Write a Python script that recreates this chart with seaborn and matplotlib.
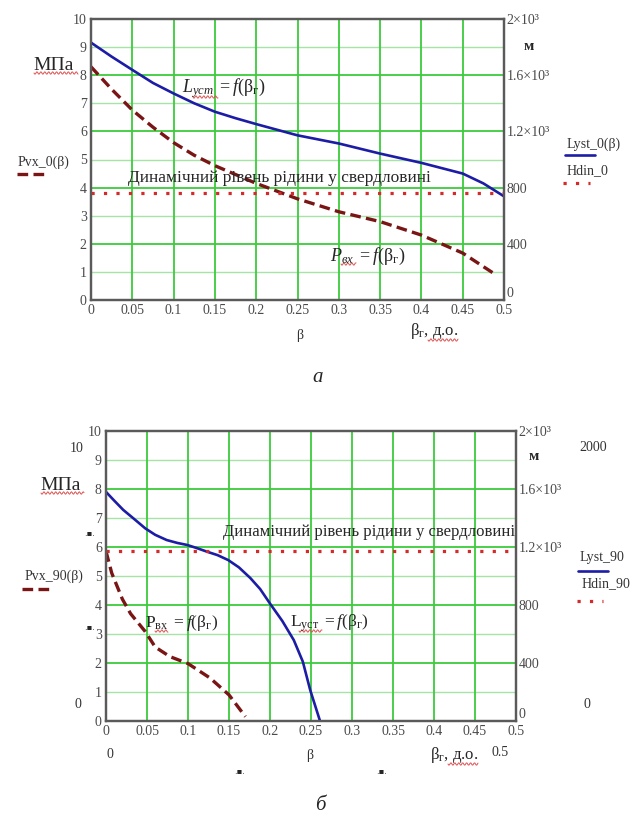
import matplotlib
matplotlib.use("Agg")
import matplotlib.pyplot as plt
import seaborn as sns
import numpy as np
import pandas as pd
from matplotlib.lines import Line2D

# ---------------- data ----------------
# chart a
beta_L0 = [0, 0.025, 0.05, 0.075, 0.1, 0.125, 0.15, 0.175, 0.2, 0.25, 0.3, 0.35, 0.4, 0.45, 0.475, 0.5]
Lyst_0 = [1832, 1732, 1638, 1545, 1470, 1400, 1340, 1294, 1252, 1172, 1114, 1042, 976, 900, 830, 738]   # m
beta_P0 = [0, 0.025, 0.05, 0.075, 0.1, 0.125, 0.15, 0.2, 0.25, 0.3, 0.35, 0.4, 0.45, 0.49]
Pvx_0 = [8.3, 7.5, 6.76, 6.15, 5.6, 5.15, 4.78, 4.15, 3.6, 3.14, 2.79, 2.31, 1.67, 0.9]         # MPa
Hdin_0 = 760                                                                                       # m

# chart b
beta_L90 = [0, 0.01, 0.021, 0.035, 0.048, 0.06, 0.074, 0.087, 0.099, 0.11, 0.123, 0.136, 0.149,
            0.162, 0.176, 0.188, 0.2, 0.215, 0.229, 0.24, 0.249, 0.261]
Lyst_90 = [1580, 1520, 1456, 1390, 1328, 1284, 1248, 1228, 1214, 1194, 1168, 1144, 1110,
           1060, 986, 910, 810, 690, 558, 410, 214, 0]
beta_P90 = [0, 0.007, 0.02, 0.03, 0.048, 0.06, 0.078, 0.1, 0.127, 0.15, 0.17]
Pvx_90 = [5.85, 5.1, 4.2, 3.7, 3.08, 2.55, 2.22, 1.98, 1.48, 0.9, 0.15]
Hdin_90 = 1170

x_ticks = [0, 0.05, 0.1, 0.15, 0.2, 0.25, 0.3, 0.35, 0.4, 0.45, 0.5]
x_labels = ["0", "0.05", "0.1", "0.15", "0.2", "0.25", "0.3", "0.35", "0.4", "0.45", "0.5"]
left_ticks = list(range(0, 11))
right_ticks = [0, 400, 800, 1200, 1600, 2000]
right_labels = ["0", "400", "800", "1.2×10³", "1.6×10³", "2×10³"]
hline_text = "Динамічний рівень рідини у свердловині"

# ---------------- style ----------------
sns.set_style("white")
plt.rcParams["font.family"] = ["Liberation Serif", "DejaVu Serif"]
plt.rcParams["mathtext.fontset"] = "custom"
plt.rcParams["mathtext.rm"] = "Liberation Serif"
plt.rcParams["mathtext.it"] = "Liberation Serif:italic"
plt.rcParams["mathtext.bf"] = "Liberation Serif:bold"

W, H = 637, 816
fig = plt.figure(figsize=(W / 100, H / 100), dpi=100)
fig.patch.set_facecolor("white")

def fx(x):
    return x / W

def fy(y):
    return 1 - y / H

BLUE = "#1c1ca6"
DRED = "#7a1515"
RED = "#d42a2a"
GMAJ = "#3ccc3c"
GMIN = "#a6e3a6"
TICKC = "#4a4a4a"


def squiggle(x0, x1, y):
    xs = np.linspace(x0, x1, int((x1 - x0) * 1.5) + 2)
    ys = y + 1.2 * np.sin((xs - x0) * 1.6)
    fig.add_artist(Line2D([fx(v) for v in xs], [fy(v) for v in ys], color="#e05050", lw=0.7))


def make_panel(rect, bL, L, bP, P, hdin):
    ax = fig.add_axes(rect)
    ax.set_xlim(0, 0.5)
    ax.set_ylim(0, 10)
    for v in left_ticks[1:-1]:
        ax.axhline(v, color=GMAJ if v % 2 == 0 else GMIN, lw=1.3 if v % 2 == 0 else 1.0, zorder=0)
    for v in x_ticks[1:-1]:
        ax.axvline(v, color=GMAJ, lw=1.3, zorder=0)
    ax.set_xticks(x_ticks)
    ax.set_xticklabels(x_labels)
    ax.set_yticks(left_ticks)
    ax.tick_params(length=0, pad=3, labelsize=10, labelcolor=TICKC)
    dfP = pd.DataFrame({"beta": bP, "P": P})
    sns.lineplot(data=dfP, x="beta", y="P", ax=ax, color=DRED, lw=2.4, sort=False)
    ax.lines[-1].set_dashes([3.2, 1.6])
    ax.set_xlabel("")
    ax.set_ylabel("")

    axr = ax.twinx()
    axr.set_ylim(0, 2000)
    axr.set_xlim(0, 0.5)
    dfL = pd.DataFrame({"beta": bL, "L": L})
    sns.lineplot(data=dfL, x="beta", y="L", ax=axr, color=BLUE, lw=1.9, sort=False)
    dfH = pd.DataFrame({"beta": [0, 0.5], "H": [hdin, hdin]})
    sns.lineplot(data=dfH, x="beta", y="H", ax=axr, color=RED, lw=2.3)
    axr.lines[-1].set_dashes([1, 2.9])
    axr.set_yticks(right_ticks)
    axr.set_yticklabels(right_labels)
    axr.tick_params(length=0, pad=2, labelsize=10, labelcolor=TICKC)
    axr.get_yticklabels()[0].set_va("bottom")
    axr.set_xlabel("")
    axr.set_ylabel("")
    for a in (ax, axr):
        for s in a.spines.values():
            s.set_color("#5a5a5a")
            s.set_linewidth(1.6)
    return ax, axr


# ---------- panel a ----------
make_panel([91 / W, 1 - 300 / H, 413 / W, 281 / H], beta_L0, Lyst_0, beta_P0, Pvx_0, Hdin_0)
fig.text(fx(33), fy(65), "МПа", fontsize=14, va="center", ha="left")
squiggle(34, 78, 73)
fig.text(fx(524), fy(47), "м", fontsize=11, fontweight="bold", va="center", ha="left")
fig.text(fx(182), fy(88), r"$L_{уст}\ = f(\mathrm{β}_{\mathrm{г}})$", fontsize=13, va="center", ha="left")
squiggle(193, 218, 97)
fig.text(fx(330), fy(256), r"$P_{вх}\ = f(\mathrm{β}_{\mathrm{г}})$", fontsize=13, va="center", ha="left")
squiggle(341, 356, 264)
fig.text(fx(128), fy(178), hline_text, fontsize=12.5, va="center", ha="left")
fig.text(fx(300), fy(335), "β", fontsize=10, va="center", ha="center", color="#333333")
fig.text(fx(410), fy(331), r"$\mathrm{β}_{\mathrm{г}}$, д.о.", fontsize=12, va="center", ha="left")
squiggle(428, 458, 340)
fig.text(fx(18), fy(162), "Pvx_0(β)", fontsize=10, va="center", ha="left", color="#333333")
fig.text(fx(567), fy(144), "Lyst_0(β)", fontsize=10, va="center", ha="left", color="#333333")
fig.text(fx(567), fy(171), "Hdin_0", fontsize=10, va="center", ha="left", color="#333333")
fig.add_artist(Line2D([fx(17), fx(47)], [fy(174), fy(174)], color=DRED, lw=2.4, dashes=[3.2, 1.6]))
fig.add_artist(Line2D([fx(565), fx(595)], [fy(155), fy(155)], color=BLUE, lw=1.9))
fig.add_artist(Line2D([fx(563), fx(590)], [fy(183), fy(183)], color=RED, lw=2.3, dashes=[1, 2.9]))
fig.text(fx(318), fy(378), "а", fontsize=15, style="italic", va="center", ha="center")

# ---------- panel b ----------
make_panel([106 / W, 1 - 721 / H, 410 / W, 290 / H], beta_L90, Lyst_90, beta_P90, Pvx_90, Hdin_90)
fig.text(fx(40), fy(485), "МПа", fontsize=14, va="center", ha="left")
squiggle(41, 84, 493)
fig.text(fx(529), fy(457), "м", fontsize=11, fontweight="bold", va="center", ha="left")
fig.text(fx(145), fy(623), r"$\mathrm{P}_{\mathrm{вх}}\ = f(\mathrm{β}_{\mathrm{г}})$", fontsize=12.5, va="center", ha="left")
squiggle(155, 168, 631)
fig.text(fx(290), fy(623), r"$\mathrm{L}_{\mathrm{уст}}\ = f(\mathrm{β}_{\mathrm{г}})$", fontsize=12.5, va="center", ha="left")
squiggle(299, 322, 631)
fig.text(fx(223), fy(532), hline_text, fontsize=12, va="center", ha="left")
fig.text(fx(77), fy(448), "10", fontsize=10, va="center", ha="center", color="#333333")
fig.text(fx(78), fy(705), "0", fontsize=10, va="center", ha="center", color="#333333")
fig.text(fx(593), fy(447), "2000", fontsize=10, va="center", ha="center", color="#333333")
fig.text(fx(587), fy(705), "0", fontsize=10, va="center", ha="center", color="#333333")
fig.text(fx(110), fy(755), "0", fontsize=10, va="center", ha="center", color="#333333")
fig.text(fx(310), fy(755), "β", fontsize=10, va="center", ha="center", color="#333333")
fig.text(fx(430), fy(755), r"$\mathrm{β}_{\mathrm{г}}$, д.о.", fontsize=12, va="center", ha="left")
squiggle(448, 478, 764)
fig.text(fx(500), fy(753), "0.5", fontsize=10, va="center", ha="center", color="#333333")
fig.text(fx(25), fy(576), "Pvx_90(β)", fontsize=10, va="center", ha="left", color="#333333")
fig.text(fx(580), fy(557), "Lyst_90", fontsize=10, va="center", ha="left", color="#333333")
fig.text(fx(582), fy(584), "Hdin_90", fontsize=10, va="center", ha="left", color="#333333")
fig.add_artist(Line2D([fx(22), fx(52)], [fy(589), fy(589)], color=DRED, lw=2.4, dashes=[3.2, 1.6]))
fig.add_artist(Line2D([fx(578), fx(608)], [fy(571), fy(571)], color=BLUE, lw=1.9))
fig.add_artist(Line2D([fx(577), fx(603)], [fy(601), fy(601)], color=RED, lw=2.3, dashes=[1, 2.9]))
for (px, py) in [(90, 533), (90, 628), (240, 771), (382, 771)]:
    fig.text(fx(px), fy(py), ".▪.", fontsize=6, va="center", ha="center", family=["DejaVu Sans"])
fig.text(fx(320), fy(805), "б", fontsize=15, style="italic", va="center", ha="center")

fig.savefig("out.png", dpi=100, facecolor="white")
